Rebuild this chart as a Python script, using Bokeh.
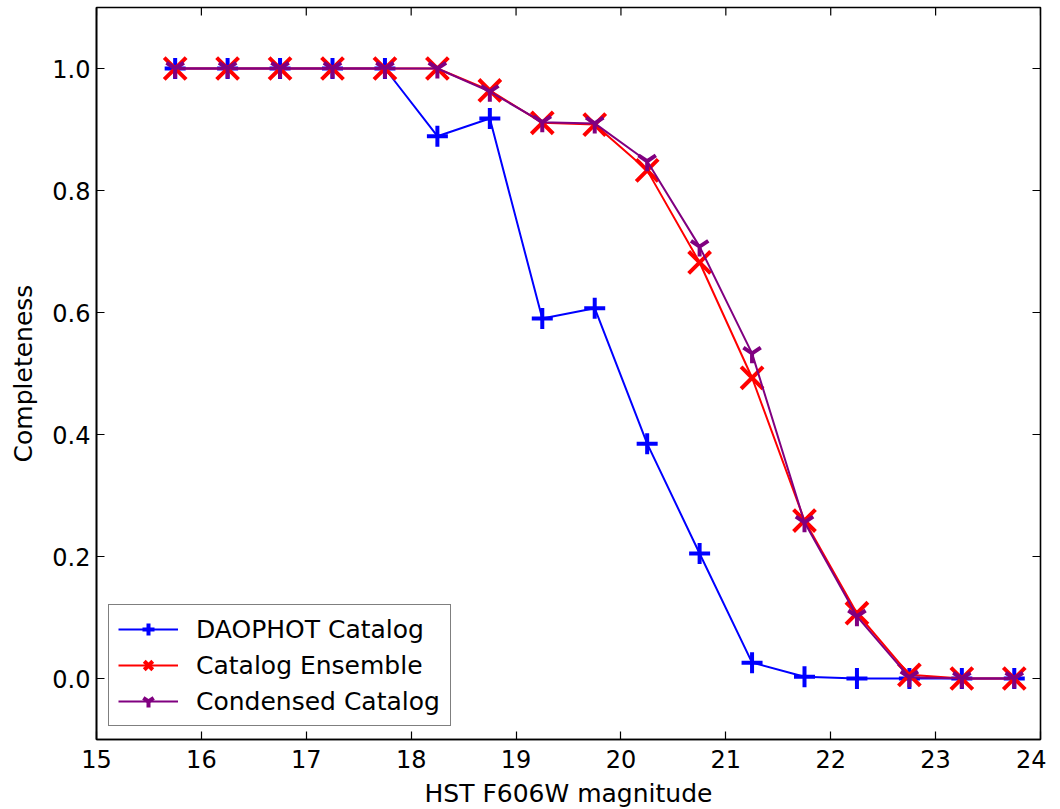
import math
from bokeh.plotting import figure
from bokeh.models import Range1d, FixedTicker, Legend, LegendItem, NumeralTickFormatter
from bokeh.embed import file_html
from bokeh.resources import INLINE

mag = [15.75, 16.25, 16.75, 17.25, 17.75, 18.25, 18.75, 19.25, 19.75,
       20.25, 20.75, 21.25, 21.75, 22.25, 22.75, 23.25, 23.75]
daophot = [1.0, 1.0, 1.0, 1.0, 1.0, 0.889, 0.918, 0.590, 0.607,
           0.385, 0.205, 0.026, 0.003, 0.0, 0.0, 0.0, 0.0]
ensemble = [1.0, 1.0, 1.0, 1.0, 1.0, 1.0, 0.964, 0.911, 0.908,
            0.833, 0.682, 0.493, 0.259, 0.107, 0.006, 0.0, 0.0]
condensed = [1.0, 1.0, 1.0, 1.0, 1.0, 1.0, 0.962, 0.912, 0.910,
             0.848, 0.708, 0.533, 0.256, 0.102, 0.002, 0.0, 0.0]
x_ticks = [15, 16, 17, 18, 19, 20, 21, 22, 23, 24]
y_ticks = [0.0, 0.2, 0.4, 0.6, 0.8, 1.0]
x_lo, x_hi = 15, 24
y_lo, y_hi = -0.1, 1.1

FONT = "DejaVu Sans"

p = figure(frame_width=944, frame_height=732, output_backend="svg", toolbar_location=None,
           x_range=Range1d(x_lo, x_hi), y_range=Range1d(y_lo, y_hi),
           min_border_left=96, min_border_right=6, min_border_top=7, min_border_bottom=0)
p.xgrid.visible = False
p.ygrid.visible = False
p.outline_line_color = "black"
p.outline_line_width = 1.6
p.outline_line_alpha = 1.0
p.background_fill_color = "white"
p.border_fill_color = "white"

for ax in (p.xaxis[0], p.yaxis[0]):
    ax.axis_line_color = "black"
    ax.axis_line_width = 1.6
    ax.major_tick_in = 8
    ax.major_tick_out = 0
    ax.major_tick_line_color = "black"
    ax.major_tick_line_width = 1.2
    ax.minor_tick_line_color = None
    ax.major_label_text_font = FONT
    ax.major_label_text_font_size = "24px"
    ax.major_label_text_color = "black"
    ax.axis_label_text_font = FONT
    ax.axis_label_text_font_size = "25px"
    ax.axis_label_text_font_style = "normal"
    ax.axis_label_text_color = "black"

p.xaxis.ticker = FixedTicker(ticks=x_ticks)
p.yaxis.ticker = FixedTicker(ticks=y_ticks)
p.yaxis.formatter = NumeralTickFormatter(format="0.0")
p.xaxis.axis_label = "HST F606W magnitude"
p.yaxis.axis_label = "Completeness"
p.xaxis.major_label_standoff = 10
p.yaxis.major_label_standoff = 6
p.xaxis.axis_label_standoff = 8
p.yaxis.axis_label_standoff = 11

# inward ticks on the top and right edges of the frame (matplotlib classic style)
p.scatter(x_ticks, [y_hi] * len(x_ticks), marker="dash", angle=math.pi / 2, size=16,
          line_color="black", line_width=1.2)
p.scatter([x_hi] * len(y_ticks), y_ticks, marker="dash", size=16,
          line_color="black", line_width=1.2)

r1l = p.line(mag, daophot, line_color="#0000ff", line_width=2)
r1m = p.scatter(mag, daophot, marker="cross", size=21, line_color="#0000ff", line_width=4)
r2l = p.line(mag, ensemble, line_color="#ff0000", line_width=2)
r2m = p.scatter(mag, ensemble, marker="x", size=31, line_color="#ff0000", line_width=4)
r3l = p.line(mag, condensed, line_color="#800080", line_width=2)
r3m = p.scatter(mag, condensed, marker="y", size=20, line_color="#800080", line_width=4)

legend = Legend(items=[
    LegendItem(label="DAOPHOT Catalog", renderers=[r1l, r1m]),
    LegendItem(label="Catalog Ensemble", renderers=[r2l, r2m]),
    LegendItem(label="Condensed Catalog", renderers=[r3l, r3m]),
], location=(12, 13))
legend.border_line_color = "black"
legend.border_line_width = 1.5
legend.background_fill_alpha = 1.0
legend.label_text_font = FONT
legend.label_text_font_size = "25px"
legend.label_text_color = "black"
legend.glyph_width = 60
legend.glyph_height = 30
legend.label_width = 245
legend.label_standoff = 18
legend.spacing = 6
legend.padding = 9
legend.margin = 0
p.add_layout(legend, "center")

open("out.html", "w").write(file_html(p, INLINE))
